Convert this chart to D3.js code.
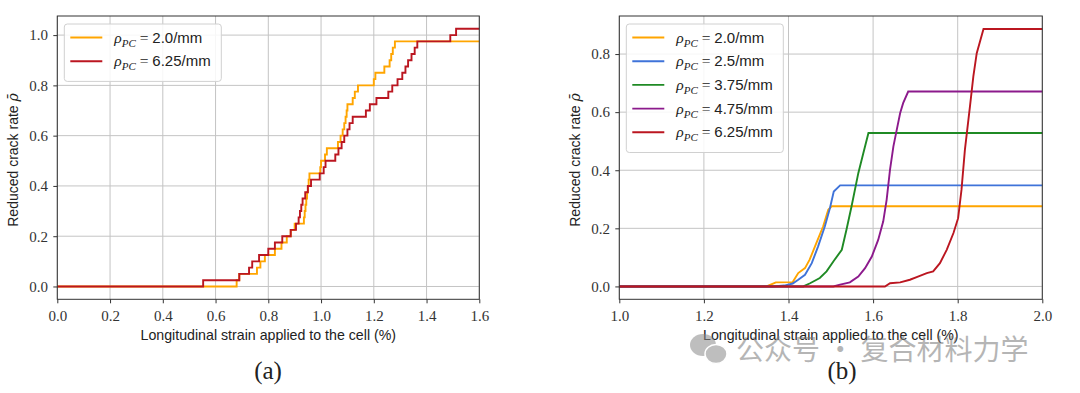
<!DOCTYPE html>
<html>
<head>
<meta charset="utf-8">
<script src="https://cdn.jsdelivr.net/npm/d3@7"></script>
<style>
  body { margin: 0; background: #fff; }
  svg { display: block; }
</style>
</head>
<body>
<div id="chart"></div>
<script>
// ---- data ----
// panel (a): step curves, [strain %, reduced crack rate]
const rate20a = [[0,0],[0.68,0.025],[0.69,0.05],[0.757,0.075],[0.77,0.1],[0.787,0.125],[0.825,0.15],[0.85,0.175],
  [0.87,0.2],[0.885,0.225],[0.9,0.25],[0.935,0.275],[0.938,0.3],[0.941,0.325],[0.944,0.35],[0.947,0.375],[0.95,0.4],
  [0.953,0.425],[0.956,0.45],[0.997,0.475],[1.0,0.5],[1.015,0.525],[1.022,0.55],[1.064,0.575],[1.074,0.6],[1.082,0.625],
  [1.088,0.65],[1.093,0.675],[1.097,0.7],[1.1,0.725],[1.12,0.75],[1.128,0.775],[1.14,0.8],[1.2,0.825],[1.206,0.85],
  [1.24,0.875],[1.26,0.9],[1.266,0.925],[1.272,0.95],[1.28,0.975],[1.6,0.975]];
const rate625a = [[0,0],[0.553,0.025],[0.69,0.05],[0.727,0.075],[0.739,0.1],[0.765,0.125],[0.8,0.15],[0.825,0.175],
  [0.853,0.2],[0.885,0.225],[0.905,0.25],[0.915,0.275],[0.92,0.3],[0.925,0.325],[0.93,0.35],[0.94,0.375],[0.95,0.4],
  [0.962,0.425],[0.995,0.45],[1.01,0.475],[1.017,0.5],[1.054,0.525],[1.066,0.55],[1.078,0.575],[1.088,0.6],[1.1,0.625],
  [1.108,0.65],[1.12,0.675],[1.17,0.7],[1.185,0.725],[1.21,0.75],[1.255,0.775],[1.27,0.8],[1.29,0.825],[1.308,0.85],
  [1.32,0.875],[1.33,0.9],[1.343,0.925],[1.355,0.95],[1.365,0.975],[1.49,1.0],[1.512,1.025],[1.6,1.025]];

// panel (b): line curves
const rate20b = [[1.0,0],[1.348,0],[1.37,0.014],[1.41,0.015],[1.423,0.046],[1.439,0.063],[1.45,0.092],[1.466,0.15],
  [1.482,0.207],[1.494,0.264],[1.502,0.276],[2.0,0.276]];
const rate25b = [[1.0,0],[1.364,0],[1.39,0.003],[1.41,0.01],[1.423,0.023],[1.439,0.04],[1.455,0.08],[1.47,0.138],
  [1.486,0.207],[1.498,0.27],[1.507,0.327],[1.522,0.348],[2.0,0.348]];
const rate375b = [[1.0,0],[1.435,0],[1.451,0.011],[1.474,0.029],[1.49,0.052],[1.506,0.086],[1.526,0.126],[1.537,0.195],
  [1.549,0.275],[1.565,0.39],[1.577,0.459],[1.589,0.528],[2.0,0.528]];
const rate475b = [[1.0,0],[1.506,0],[1.522,0.006],[1.545,0.014],[1.565,0.034],[1.581,0.063],[1.597,0.103],[1.612,0.16],
  [1.624,0.224],[1.632,0.298],[1.64,0.402],[1.648,0.482],[1.656,0.54],[1.664,0.597],[1.671,0.631],[1.683,0.671],[2.0,0.671]];
const rate625b = [[1.0,0],[1.628,0],[1.64,0.011],[1.664,0.014],[1.687,0.023],[1.703,0.032],[1.727,0.046],[1.742,0.052],
  [1.758,0.08],[1.774,0.126],[1.79,0.184],[1.801,0.235],[1.809,0.333],[1.817,0.47],[1.829,0.62],[1.837,0.723],
  [1.845,0.803],[1.861,0.886],[2.0,0.886]];

const densA = ["2.0", "6.25"];
const densB = ["2.0", "2.5", "3.75", "4.75", "6.25"];
const ticksXA = [0, 0.2, 0.4, 0.6, 0.8, 1.0, 1.2, 1.4, 1.6];
const ticksXB = [1.0, 1.2, 1.4, 1.6, 1.8, 2.0];
const ticksYA = [0, 0.2, 0.4, 0.6, 0.8, 1.0];
const ticksYB = [0, 0.2, 0.4, 0.6, 0.8];

const cOrange = "#ffa500", cBlue = "#3f73d9", cGreen = "#1f8a24", cPurple = "#8c1a8c", cRed = "#bb1620";

const W = 1080, H = 393;
const svg = d3.select("#chart").append("svg").attr("width", W).attr("height", H);

const serif = "'Liberation Serif', 'DejaVu Serif', serif";
const sans = "'Liberation Sans', 'DejaVu Sans', sans-serif";

function drawPanel(opt) {
  const x = d3.scaleLinear().domain(opt.xDom).range([opt.left, opt.right]);
  const y = d3.scaleLinear().domain(opt.yDom).range([299.3, 16]);
  const g = svg.append("g");

  // grid
  g.append("g").selectAll("line").data(opt.xt).join("line")
    .attr("x1", d => x(d)).attr("x2", d => x(d)).attr("y1", 16).attr("y2", 299.3)
    .attr("stroke", "#c4c4c4").attr("stroke-width", 1);
  g.append("g").selectAll("line").data(opt.yt).join("line")
    .attr("x1", opt.left).attr("x2", opt.right).attr("y1", d => y(d)).attr("y2", d => y(d))
    .attr("stroke", "#c4c4c4").attr("stroke-width", 1);

  // axes
  const ax = g.append("g").attr("transform", "translate(0,299.3)")
    .call(d3.axisBottom(x).tickValues(opt.xt).tickFormat(d3.format(".1f")).tickSize(4).tickSizeOuter(0));
  const ay = g.append("g").attr("transform", `translate(${opt.left},0)`)
    .call(d3.axisLeft(y).tickValues(opt.yt).tickFormat(d3.format(".1f")).tickSize(4).tickSizeOuter(0));
  [ax, ay].forEach(a => {
    a.select(".domain").remove();
    a.selectAll(".tick line").attr("stroke", "#333");
    a.selectAll("text").attr("font-family", serif).attr("font-size", 15).attr("fill", "#333");
  });
  ax.selectAll("text").attr("dy", "0.95em");
  ay.selectAll("text").attr("dx", "-0.15em");

  // lines
  const line = d3.line().x(d => x(d[0])).y(d => y(d[1])).curve(opt.curve);
  opt.series.forEach(s => {
    g.append("path").datum(s.data).attr("d", line)
      .attr("fill", "none").attr("stroke", s.color).attr("stroke-width", 1.9)
      .attr("stroke-linejoin", "miter");
  });

  // frame
  g.append("rect").attr("x", opt.left).attr("y", 16)
    .attr("width", opt.right - opt.left).attr("height", 299.3 - 16)
    .attr("fill", "none").attr("stroke", "#333").attr("stroke-width", 1);

  // labels
  g.append("text").attr("x", (opt.left + opt.right) / 2).attr("y", 340)
    .attr("text-anchor", "middle").attr("font-family", sans).attr("font-size", 14.2).attr("fill", "#222")
    .text("Longitudinal strain applied to the cell (%)");
  const yl = g.append("text")
    .attr("transform", `translate(${opt.left - 39},160) rotate(-90)`)
    .attr("text-anchor", "middle").attr("font-family", sans).attr("font-size", 14).attr("fill", "#222");
  yl.append("tspan").text("Reduced crack rate ");
  yl.append("tspan").attr("font-family", "'DejaVu Serif', serif").attr("font-style", "italic")
    .attr("font-size", 14).text("ρ\u0304");

  g.append("text").attr("x", opt.capX).attr("y", 379)
    .attr("text-anchor", "middle").attr("font-family", serif).attr("font-size", 25).attr("fill", "#222")
    .text(opt.caption);

  // legend
  const n = opt.series.length;
  const lg = g.append("g").attr("transform", `translate(${opt.left + 7},24)`);
  lg.append("rect").attr("x", 0).attr("y", 0).attr("rx", 3)
    .attr("width", 157).attr("height", 10 + n * 23.7)
    .attr("fill", "#fff").attr("fill-opacity", 0.85).attr("stroke", "#d0d0d0");
  opt.series.forEach((s, i) => {
    const yy = 13.5 + i * 23.7;
    lg.append("line").attr("x1", 6).attr("x2", 38).attr("y1", yy).attr("y2", yy)
      .attr("stroke", s.color).attr("stroke-width", 1.9);
    const t = lg.append("text").attr("x", 50).attr("y", yy + 5).attr("fill", "#222").attr("font-size", 15.5);
    t.append("tspan").attr("font-family", serif).attr("font-style", "italic").text("ρ");
    t.append("tspan").attr("font-family", serif).attr("font-style", "italic").attr("font-size", 11)
      .attr("dy", 4).text("PC");
    t.append("tspan").attr("font-family", serif).attr("dy", -4).text(" = ");
    t.append("tspan").attr("font-family", sans).attr("font-size", 15).text(s.label + "/mm");
  });
}

drawPanel({
  left: 57.3, right: 479.3, xDom: [0, 1.6], yDom: [-0.051, 1.076],
  xt: ticksXA, yt: ticksYA, curve: d3.curveStepAfter, caption: "(a)", capX: 268,
  series: [
    { data: rate20a, color: cOrange, label: densA[0] },
    { data: rate625a, color: cRed, label: densA[1] }
  ]
});

drawPanel({
  left: 619.3, right: 1042.3, xDom: [1, 2], yDom: [-0.0443, 0.931],
  xt: ticksXB, yt: ticksYB, curve: d3.curveLinear, caption: "(b)", capX: 842,
  series: [
    { data: rate20b, color: cOrange, label: densB[0] },
    { data: rate25b, color: cBlue, label: densB[1] },
    { data: rate375b, color: cGreen, label: densB[2] },
    { data: rate475b, color: cPurple, label: densB[3] },
    { data: rate625b, color: cRed, label: densB[4] }
  ]
});

// watermark (overlays the lower right, as in the picture)
const wm = svg.append("g").attr("opacity", 0.55);
wm.append("ellipse").attr("cx", 703).attr("cy", 345).attr("rx", 13).attr("ry", 11).attr("fill", "#8a8a8a");
wm.append("ellipse").attr("cx", 716).attr("cy", 354).attr("rx", 11).attr("ry", 9.5).attr("fill", "#8a8a8a")
  .attr("stroke", "#fff").attr("stroke-width", 1.5);
wm.append("text").attr("x", 736).attr("y", 360).attr("font-family", "'Noto Sans CJK SC', sans-serif")
  .attr("font-size", 28).attr("fill", "#7a7a7a").text("公众号 · 复合材料力学");
</script>
</body>
</html>
